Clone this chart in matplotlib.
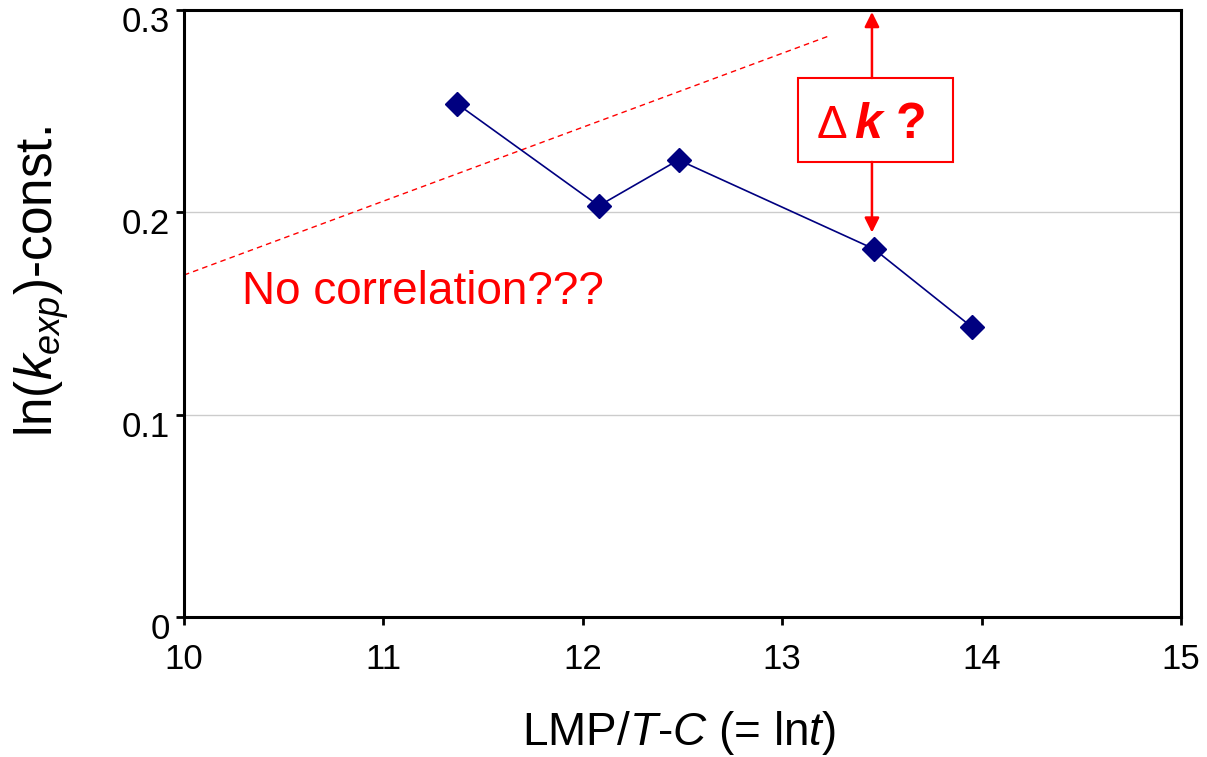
import matplotlib
matplotlib.use('Agg')
import matplotlib.pyplot as plt
from matplotlib.patches import Rectangle
from matplotlib.transforms import ScaledTranslation

# measured points
lmp_x = [11.37, 12.08, 12.48, 13.46, 13.95]
lnk_y = [0.2536, 0.2032, 0.2259, 0.1819, 0.1434]

# hand-drawn "expected" trend
trend_x = [10.0, 13.23]
trend_y = [0.169, 0.287]

x_ticks = [10, 11, 12, 13, 14, 15]
y_ticks = [0, 0.1, 0.2, 0.3]
y_tick_labels = ['0', '0.1', '0.2', '0.3']

plt.rcParams['font.family'] = ['Liberation Sans', 'DejaVu Sans']
plt.rcParams['mathtext.fontset'] = 'custom'
plt.rcParams['mathtext.rm'] = 'Liberation Sans'
plt.rcParams['mathtext.it'] = 'Liberation Sans:italic'
plt.rcParams['mathtext.bf'] = 'Liberation Sans:bold'

fig = plt.figure(figsize=(12.07, 7.57), dpi=100)
ax = fig.add_axes([0.1524, 0.1849, 0.8261, 0.8019])

ax.set_xlim(10, 15)
ax.set_ylim(0, 0.3)
ax.set_xticks(x_ticks)
ax.set_yticks(y_ticks)
ax.set_yticklabels(y_tick_labels)
ax.grid(axis='y', color='#cccccc', linewidth=1)
ax.set_axisbelow(True)
for s in ax.spines.values():
    s.set_linewidth(2.2)
    s.set_color('black')
ax.tick_params(direction='out', length=6, width=2, labelsize=25)
ax.tick_params(axis='x', pad=13)
ax.tick_params(axis='y', pad=4)

# y tick labels sit a bit below their ticks in the original
shift = ScaledTranslation(0, -9 / 100, fig.dpi_scale_trans)
for lbl in ax.get_yticklabels():
    lbl.set_transform(lbl.get_transform() + shift)

ax.plot(trend_x, trend_y, color='red', linestyle=(0, (4, 3)), linewidth=1)
ax.plot(lmp_x, lnk_y, color='#000080', linewidth=1.2, marker='D',
        markersize=12, markerfacecolor='#000080', markeredgecolor='#000080')

ax.text(10.29, 0.1545, 'No correlation???', color='red', fontsize=33,
        ha='left', va='baseline')

# delta-k annotation box with arrows
box_x0, box_x1 = 13.08, 13.857
box_y0, box_y1 = 0.2249, 0.2664
arrow_x = 13.45
ax.add_patch(Rectangle((box_x0, box_y0), box_x1 - box_x0, box_y1 - box_y0,
                       fill=False, edgecolor='red', linewidth=1.5))
ax.annotate('', xy=(arrow_x, 0.299), xytext=(arrow_x, box_y1),
            arrowprops=dict(arrowstyle='-|>', color='red', lw=1.8,
                            mutation_scale=22, shrinkA=0, shrinkB=0))
ax.annotate('', xy=(arrow_x, 0.19), xytext=(arrow_x, box_y0),
            arrowprops=dict(arrowstyle='-|>', color='red', lw=1.8,
                            mutation_scale=22, shrinkA=0, shrinkB=0))
ax.text(13.25, 0.2368, '\u0394', color='red', fontsize=33, ha='center', va='baseline')
ax.text(13.43, 0.2368, 'k', color='red', fontsize=36, ha='center', va='baseline',
        fontweight='bold', fontstyle='italic')
ax.text(13.645, 0.2368, '?', color='red', fontsize=36, ha='center', va='baseline',
        fontweight='bold')

ax.set_xlabel(r'LMP/$T$-$C$ (= ln$t$)', fontsize=33, va='baseline')
ax.xaxis.set_label_coords(0.496, -0.2109)
ax.set_ylabel(r'ln($k_{exp}$)-const.', fontsize=37, va='baseline')
ax.yaxis.set_label_coords(-0.1314, 0.5527)

fig.savefig('out.png', dpi=100)
